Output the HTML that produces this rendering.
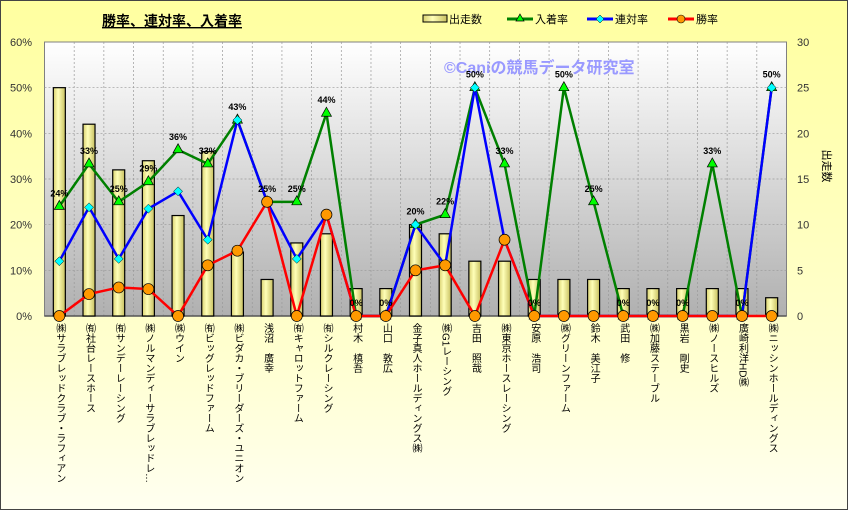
<!DOCTYPE html>
<html><head><meta charset="utf-8">
<style>
body{margin:0;width:848px;height:510px;overflow:hidden;font-family:"Liberation Sans","Noto Sans CJK JP",sans-serif;}
#wrap{position:absolute;left:0;top:0;width:846px;height:508px;border:1px solid #444;background:linear-gradient(#ffffa0,#ffffd0 70%,#fffff0);}
.xl{position:absolute;top:322px;writing-mode:vertical-rl;font-size:10px;line-height:11px;color:#000;white-space:nowrap;transform:translateX(-5.5px);}
</style></head>
<body>
<div id="wrap">
<svg id="chart" width="848" height="510" style="position:absolute;left:0;top:0">
<defs>
<linearGradient id="pg" x1="0" y1="0" x2="0" y2="1"><stop offset="0" stop-color="#ffffff"/><stop offset="1" stop-color="#b0b0b0"/></linearGradient>
<linearGradient id="bg" x1="0" y1="0" x2="1" y2="0"><stop offset="0" stop-color="#d8d070"/><stop offset="0.4" stop-color="#ffffb8"/><stop offset="1" stop-color="#c8c060"/></linearGradient>
</defs>
<text x="101" y="25" font-size="14" font-weight="bold" text-decoration="underline" font-family="Liberation Sans, Noto Sans CJK JP, sans-serif">勝率、連対率、入着率</text>
<g font-size="11" font-family="Liberation Sans, Noto Sans CJK JP, sans-serif">
<g><rect x="422" y="14" width="24" height="7" fill="url(#bg)" stroke="#000"/><text x="448" y="22">出走数</text></g>
<g><line x1="506" y1="18" x2="532" y2="18" stroke="#008000" stroke-width="3"/><polygon points="519,13 523,20 515,20" fill="#0f0" stroke="#000" stroke-width="0.7"/><text x="534" y="22">入着率</text></g>
<g><line x1="586" y1="18" x2="612" y2="18" stroke="#00f" stroke-width="3"/><polygon points="599,14 603,18 599,22 595,18" fill="#0ff" stroke="#000" stroke-width="0.5"/><text x="614" y="22">連対率</text></g>
<g><line x1="667" y1="18" x2="693" y2="18" stroke="#f00" stroke-width="3"/><circle cx="680" cy="18" r="4" fill="#f90" stroke="#000" stroke-width="0.6"/><text x="695" y="22">勝率</text></g>
</g>
<g id="plot"></g>
</svg>
<div id="xlabels"></div>
</div>
<script>
const categories=["㈱サラブレッドクラブ・ラフィアン","㈲社台レースホース","㈲サンデーレーシング","㈱ノルマンディーサラブレッドレ…","㈱ウイン","㈲ビッグレッドファーム","㈱ビダカ・ブリーダーズ・ユニオン","浅沼　廣幸","㈲キャロットファーム","㈲シルクレーシング","村木　槙吾","山口　敦広","金子真人ホールディングス㈱","㈱G1レーシング","吉田　照哉","㈱東京ホースレーシング","安原　浩司","㈱グリーンファーム","鈴木　美江子","武田　修","㈱加藤ステーブル","黒岩　剛史","㈱ノースヒルズ","廣崎利洋HD㈱","㈱ニッシンホールディングス"];
const runs=[25,21,16,17,11,18,7,4,8,9,3,3,10,9,6,6,4,4,4,3,3,3,3,3,2];
const showRate=[24,33.3,25,29.4,36.4,33.3,42.9,25,25,44.4,0,0,20,22.2,50,33.3,0,50,25,0,0,0,33.3,0,50];
const placeRate=[12,23.8,12.5,23.5,27.3,16.7,42.9,25,12.5,22.2,0,0,20,11.1,50,16.7,0,0,0,0,0,0,0,0,50];
const winRate=[0,4.8,6.25,5.9,0,11.1,14.3,25,0,22.2,0,0,10,11.1,0,16.7,0,0,0,0,0,0,0,0,0];
const leftTicks=["0%","10%","20%","30%","40%","50%","60%"];
const rightTicks=["0","5","10","15","20","25","30"];

const NS="http://www.w3.org/2000/svg";
const L=43.5,R=785.5,T=41,B=315;
const n=categories.length, step=(R-L)/n;
const xc=i=>L+step*(i+0.5);
const yP=v=>B-(v/60)*(B-T);
const yC=v=>B-(v/30)*(B-T);
const plot=document.getElementById('plot');
function mk(tag,attrs,parent){const e=document.createElementNS(NS,tag);for(const k in attrs)e.setAttribute(k,attrs[k]);(parent||plot).appendChild(e);return e;}

const area=mk('rect',{x:L,y:T,width:R-L,height:B-T,fill:'url(#pg)',stroke:'#808080'});


for(let i=1;i<n;i++){const g=mk('line',{x1:L+step*i,x2:L+step*i,y1:T,y2:B,stroke:'#999','stroke-dasharray':'2,2','stroke-width':0.7});

}
leftTicks.forEach((t,i)=>{const y=yP(i*10);
if(i>0&&i<6){const g=mk('line',{x1:L,x2:R,y1:y,y2:y,stroke:'#999','stroke-dasharray':'2,2','stroke-width':0.7});

}
const tx=mk('text',{x:31,y:y+4,'text-anchor':'end','font-size':11,fill:'#333'});tx.textContent=t;

});
rightTicks.forEach((t,i)=>{const y=yC(i*5);
const tx=mk('text',{x:796,y:y+4,'font-size':11,fill:'#333'});tx.textContent=t;

});
const rt=mk('text',{x:0,y:0,'font-size':11,transform:'translate(822,165) rotate(90)','text-anchor':'middle'});rt.textContent='出走数';


const ax=mk('line',{x1:L,x2:R,y1:B,y2:B,stroke:'#555','stroke-width':1.5});



const wm=mk('text',{x:443,y:72,'font-size':16,'font-weight':'bold',fill:'#9999ff','font-family':'Liberation Sans, Noto Sans CJK JP, sans-serif'});wm.textContent='©Caniの競馬データ研究室';



runs.forEach((v,i)=>{const b=mk('rect',{x:xc(i)-6,y:yC(v),width:12,height:B-yC(v),fill:'url(#bg)',stroke:'#000','stroke-width':1.2});

});

function line(arr,color,name){const p=mk('polyline',{points:arr.map((v,i)=>xc(i)+','+yP(v)).join(' '),fill:'none',stroke:color,'stroke-width':2.5});

}
line(showRate,'#008000','show-rate-line');
line(placeRate,'#0000ff','place-rate-line');
line(winRate,'#ff0000','win-rate-line');
showRate.forEach((v,i)=>{const x=xc(i),y=yP(v);
const m=mk('polygon',{points:`${x},${y-6} ${x+5},${y+3} ${x-5},${y+3}`,fill:'#00ff00',stroke:'#000','stroke-width':0.7});


const t=mk('text',{x:x,y:y-10,'text-anchor':'middle','font-size':9,'font-weight':'bold'});t.textContent=Math.round(v)+'%';

});
placeRate.forEach((v,i)=>{const x=xc(i),y=yP(v);
const m=mk('polygon',{points:`${x},${y-4.5} ${x+4.5},${y} ${x},${y+4.5} ${x-4.5},${y}`,fill:'#00ffff',stroke:'#000','stroke-width':0.5});

});
winRate.forEach((v,i)=>{const m=mk('circle',{cx:xc(i),cy:yP(v),r:5.5,fill:'#ff9900',stroke:'#000','stroke-width':0.7});

});

const xl=document.getElementById('xlabels');
categories.forEach((c,i)=>{const d=document.createElement('div');d.className='xl';d.style.left=xc(i)+'px';d.textContent=c;


xl.appendChild(d);});
</script>
</body></html>
